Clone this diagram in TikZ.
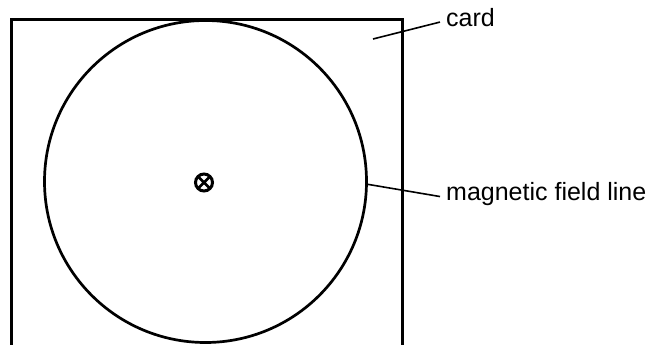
\documentclass[tikz,border=0pt]{standalone}
\usepackage{fontspec}
\setmainfont{Liberation Sans}
\usetikzlibrary{positioning}

\begin{document}
\begin{tikzpicture}[
    x=1pt, y=-1pt,
    card/.style={draw, line width=3pt, minimum width=391pt, minimum height=360pt, anchor=north west, inner sep=0pt},
    fieldline/.style={circle, draw, line width=2.7pt, minimum size=322pt, inner sep=0pt},
    intopage/.style={circle, draw, line width=3pt, minimum size=17pt, inner sep=0pt,
        path picture={\draw[line width=2.8pt] (path picture bounding box.north west) -- (path picture bounding box.south east)
            (path picture bounding box.north east) -- (path picture bounding box.south west);}},
    lbl/.style={font=\fontsize{25}{30}\selectfont, inner sep=0pt, anchor=base west},
    leader/.style={line width=1.6pt},
]
    \clip (0,0) rectangle (656,345);
    \fill[white] (0,0) rectangle (656,345);

    % card and the field line
    \node[card] (crd) at (10,18) {};
    \node[fieldline] (fl) at (205.5,181.5) {};
    \node[intopage] (b) at (204,182.5) {};

    % labels
    \node[lbl] (crdlbl) at (446,27) {card};
    \node[lbl] (fllbl) at (446,200) {magnetic field line};
    \coordinate (crdpt) at (373,39);
    \coordinate (crdend) at ([xshift=-6pt,yshift=-4pt]crdlbl.west);
    \coordinate (flend) at ([xshift=-6pt,yshift=-3pt]fllbl.west);
    \draw[leader] (crdpt) -- (crdend);
    \draw[leader] (fl.-1.5) -- (flend);
\end{tikzpicture}
\end{document}
